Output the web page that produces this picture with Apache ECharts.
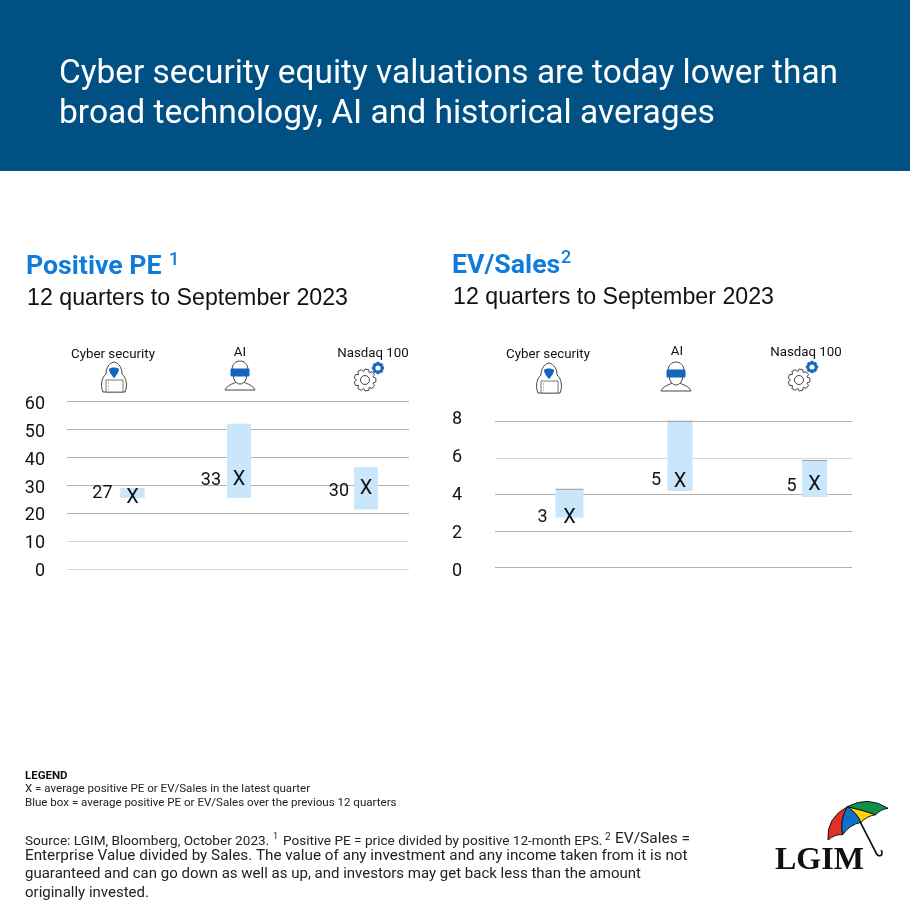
<!DOCTYPE html>
<html><head><meta charset="utf-8">
<style>html,body{margin:0;padding:0;background:#fff}#c{width:910px;height:910px}</style>
<script src="https://cdn.jsdelivr.net/npm/echarts@6/dist/echarts.min.js"></script>
</head><body><div id="c"></div>
<script>
const categories = ['Cyber security', 'AI', 'Nasdaq 100'];
const peLow = [25.4, 25.4, 21.3];
const peHigh = [29, 52, 36.4];
const peLatest = [26, 32.5, 29.3];
const peLabels = ['27', '33', '30'];
const evLow = [2.73, 4.18, 3.86];
const evHigh = [4.28, 8, 5.86];
const evLatest = [2.82, 4.8, 4.6];
const evLabels = ['3', '5', '5'];

const blue = '#0F7BDB', ink = '#111', line = '#b0b0b0', light = '#d8d8d8';
const panels = [
  {low: peLow, high: peHigh, latest: peLatest, labels: peLabels, max: 60, step: 10,
   grid: {left: 67, width: 342, top: 401.3, height: 167.7},
   tickGrid: {left: 50, width: 342, top: 404.5, height: 167},
   colors: [light, light, line, line, line, line, line],
   boxDx: [8.5, 1, 14], boxW: [24.5, 24, 24], labelDx: [-20, -18, -17], labelDy: [-5, 0, 2]},
  {low: evLow, high: evHigh, latest: evLatest, labels: evLabels, max: 8, step: 2,
   grid: {left: 495, width: 357, top: 421.3, height: 146.2},
   tickGrid: {left: 467, width: 357, top: 419.5, height: 152},
   colors: [line, line, line, light, line],
   boxDx: [15, 6.5, 22], boxW: [28, 25, 25], labelDx: [-22, -19, -18], labelDy: [0, -1, 1]}
];

function txt(x, y, text, font, fill) {
  const size = parseFloat(font.match(/([\d.]+)px/)[1]);
  return {type: 'text', x, y: y + size * 0.1, silent: true, style: {text, font, fill, textVerticalAlign: 'middle'}};
}
const roboto = 'Roboto, sans-serif', arial = '"Liberation Sans", Arial, sans-serif';

let shapeCount = 0;
function pathEl(d, style, extra) {
  const name = 'svgShape' + (shapeCount++);
  echarts.graphic.registerShape(name, echarts.graphic.extendPath(d, {}));
  return Object.assign({type: name, style}, extra || {});
}
function gearPath(r, teeth) {
  let d = '';
  for (let i = 0; i < teeth; i++) {
    const a = i / teeth * Math.PI * 2, w = Math.PI / teeth;
    const pts = [[r * 0.78, a - w * 0.95], [r, a - w * 0.5], [r, a + w * 0.5], [r * 0.78, a + w * 0.95]];
    pts.forEach((p, j) => {
      d += (i === 0 && j === 0 ? 'M' : 'L') + (p[0] * Math.cos(p[1])).toFixed(2) + ',' + (p[0] * Math.sin(p[1])).toFixed(2);
    });
  }
  return d + 'Z';
}
const outline = {fill: 'none', stroke: '#444', lineWidth: 1};
function hoodIcon(x, y) {
  return {type: 'group', x, y, silent: true, children: [
    pathEl('M-11,15 C-14,8 -12,0 -8,-3 C-8,-9 -5,-14 0,-15 C5,-14 8,-9 8,-3 C12,0 14,8 11,15 Z', outline),
    pathEl('M-5,-8 C-3,-10 3,-10 5,-8 C5,-5 2,-1 0,1 C-2,-1 -5,-5 -5,-8 Z', {fill: '#1565C0'}),
    {type: 'rect', shape: {x: -8, y: 3, width: 17, height: 12}, style: {fill: '#fff', stroke: '#555', lineWidth: 0.8}},
    pathEl('M-6,6 L-5,6 M-6,9 L-5,9 M-6,12 L-5,12', {stroke: '#555', lineWidth: 0.8, fill: 'none'})
  ]};
}
function vrIcon(x, y) {
  return {type: 'group', x, y, silent: true, children: [
    pathEl('M-15,14 C-13,9 -7,8 -4,6 M15,14 C13,9 7,8 4,6 M-15,14 L15,14', outline),
    pathEl('M-7,-3 C-7,5 -3,8 0,8 C3,8 7,5 7,-3', outline),
    pathEl('M-8,-6 C-8,-12 -4,-15 0,-15 C4,-15 8,-12 8,-6', outline),
    pathEl('M-9,-7 L9,-7 L9,0 L-9,0 Z', {fill: '#1565C0', stroke: '#1565C0', lineWidth: 1, lineJoin: 'round'})
  ]};
}
function gearIcon(x, y, dx, dy) {
  return {type: 'group', x, y, silent: true, children: [
    pathEl(gearPath(11, 9), outline),
    {type: 'circle', shape: {cx: 0, cy: 0, r: 4.5}, style: outline},
    pathEl(gearPath(6, 8), {fill: '#1565C0', stroke: '#1565C0', lineWidth: 0.5}, {x: dx, y: dy}),
    {type: 'circle', shape: {cx: dx, cy: dy, r: 2.6}, style: {fill: '#fff'}}
  ]};
}
const iconLayout = [
  {labels: [[113, 353], [240, 351], [373, 352]], hood: [114, 377], vr: [240, 376], gear: [365, 380, 13, -12]},
  {labels: [[548, 353], [677, 350], [806, 351]], hood: [549, 378], vr: [676, 377], gear: [799, 380, 13, -13]}
];

const graphics = [
  {type: 'rect', z: -1, silent: true, shape: {x: 0, y: 0, width: 910, height: 171}, style: {fill: '#005084'}},
  txt(59, 71, 'Cyber security equity valuations are today lower than', '400 33.4px ' + roboto, '#fff'),
  txt(59, 111, 'broad technology, AI and historical averages', '400 33.55px ' + roboto, '#fff'),
  txt(26, 265, 'Positive PE', '700 26.7px ' + roboto, blue),
  txt(169, 259, '1', '500 18px ' + roboto, blue),
  txt(27, 296, '12 quarters to September 2023', '400 23.2px ' + arial, ink),
  txt(452, 264, 'EV/Sales', '700 26.7px ' + roboto, blue),
  txt(561, 257, '2', '500 18px ' + roboto, blue),
  txt(453, 295, '12 quarters to September 2023', '400 23.2px ' + arial, ink),
  txt(25, 775, 'LEGEND', '700 11.5px ' + roboto, ink),
  txt(25, 788, 'X = average positive PE or EV/Sales in the latest quarter', '400 11.55px ' + roboto, '#222'),
  txt(25, 802, 'Blue box = average positive PE or EV/Sales over the previous 12 quarters', '400 11.55px ' + roboto, '#222'),
  txt(25, 840, 'Source: LGIM, Bloomberg, October 2023.', '400 13.6px ' + roboto, '#222'),
  txt(273, 836, '1', '400 9px ' + roboto, '#222'),
  txt(283, 840, 'Positive PE = price divided by positive 12-month EPS.', '400 13.6px ' + roboto, '#222'),
  txt(605, 836, '2', '400 10px ' + roboto, '#222'),
  txt(615, 838, 'EV/Sales =', '400 15.5px ' + roboto, '#222'),
  txt(25, 855, 'Enterprise Value divided by Sales. The value of any investment and any income taken from it is not', '400 15.25px ' + roboto, '#222'),
  txt(25, 873, 'guaranteed and can go down as well as up, and investors may get back less than the amount', '400 15px ' + roboto, '#222'),
  txt(25, 892, 'originally invested.', '400 15px ' + roboto, '#222'),
  {type: 'group', x: 760, y: 790, scaleX: 1 / 3, scaleY: 1 / 3, silent: true, children: [
    pathEl('M300,95 L346,184 C354,204 372,200 364,180', {fill: 'none', stroke: '#111', lineWidth: 5}),
    pathEl('M204,150 Q198,85 262,50 Q238,92 248,134 Q225,132 204,150 Z', {fill: '#E03127', stroke: '#111', lineWidth: 3}),
    pathEl('M262,50 Q238,92 248,134 Q268,104 303,97 Q292,70 262,50 Z', {fill: '#0F72C8', stroke: '#111', lineWidth: 3}),
    pathEl('M262,50 Q292,70 303,97 Q320,78 347,74 Q308,60 262,50 Z', {fill: '#FFD400', stroke: '#111', lineWidth: 3}),
    pathEl('M262,50 Q325,16 384,55 Q362,58 347,74 Q308,60 262,50 Z', {fill: '#0E9247', stroke: '#111', lineWidth: 3})
  ]},
  txt(775, 858, 'LGIM', '700 32px "Liberation Serif", serif', '#111')
];
iconLayout.forEach(l => {
  categories.forEach((c, i) => {
    const t = txt(l.labels[i][0], l.labels[i][1], c, '400 13.3px ' + roboto, '#111');
    t.style.textAlign = 'center';
    graphics.push(t);
  });
  graphics.push(hoodIcon(l.hood[0], l.hood[1]), vrIcon(l.vr[0], l.vr[1]), gearIcon(l.gear[0], l.gear[1], l.gear[2], l.gear[3]));
});

const grid = [], xAxis = [], yAxis = [], series = [];
panels.forEach((p, k) => {
  const a = grid.length;
  grid.push(p.grid, p.tickGrid);
  xAxis.push({type: 'category', gridIndex: a, data: categories, axisLine: {show: false}, axisTick: {show: false}, axisLabel: {show: false}},
             {type: 'category', gridIndex: a + 1, data: categories, show: false});
  yAxis.push({type: 'value', gridIndex: a, min: 0, max: p.max, interval: p.step, axisLine: {show: false}, axisTick: {show: false}, axisLabel: {show: false},
              splitLine: {lineStyle: {color: p.colors, width: 1}}},
             {type: 'value', gridIndex: a + 1, min: 0, max: p.max, interval: p.step, axisLine: {show: false}, axisTick: {show: false}, splitLine: {show: false},
              axisLabel: {margin: 5, fontFamily: 'Roboto', fontSize: 18, color: ink}});
  series.push({
    type: 'custom', xAxisIndex: a, yAxisIndex: a, z: 5, silent: true, clip: false,
    data: categories.map((c, i) => [i, p.low[i], p.high[i], p.latest[i]]),
    encode: {x: 0, y: [1, 2, 3]},
    renderItem(params, api) {
      const i = api.value(0), hi = api.coord([i, api.value(2)]), lo = api.coord([i, api.value(1)]), la = api.coord([i, api.value(3)]);
      const cx = hi[0] + p.boxDx[i], w = p.boxW[i];
      const kids = [
        {type: 'rect', shape: {x: cx - w / 2, y: hi[1], width: w, height: lo[1] - hi[1]}, style: {fill: '#C9E6FB'}},
        {type: 'text', style: {text: 'X', x: cx, y: la[1] + 2, font: '400 20px ' + roboto, fill: '#111', textAlign: 'center', textVerticalAlign: 'middle'}},
        {type: 'text', style: {text: p.labels[i], x: cx + p.labelDx[i], y: la[1] + p.labelDy[i] + 2, font: '400 18px ' + roboto, fill: '#111', textAlign: 'right', textVerticalAlign: 'middle'}}
      ];
      if (k === 1) kids.push({type: 'line', shape: {x1: cx - w / 2, y1: hi[1], x2: cx + w / 2, y2: hi[1]}, style: {stroke: '#9a9a9a', lineWidth: 1}});
      return {type: 'group', children: kids};
    }
  });
});

const chart = echarts.init(document.getElementById('c'));
chart.setOption({animation: false, backgroundColor: '#fff', grid, xAxis, yAxis, series, graphic: {elements: graphics}});
</script></body></html>
